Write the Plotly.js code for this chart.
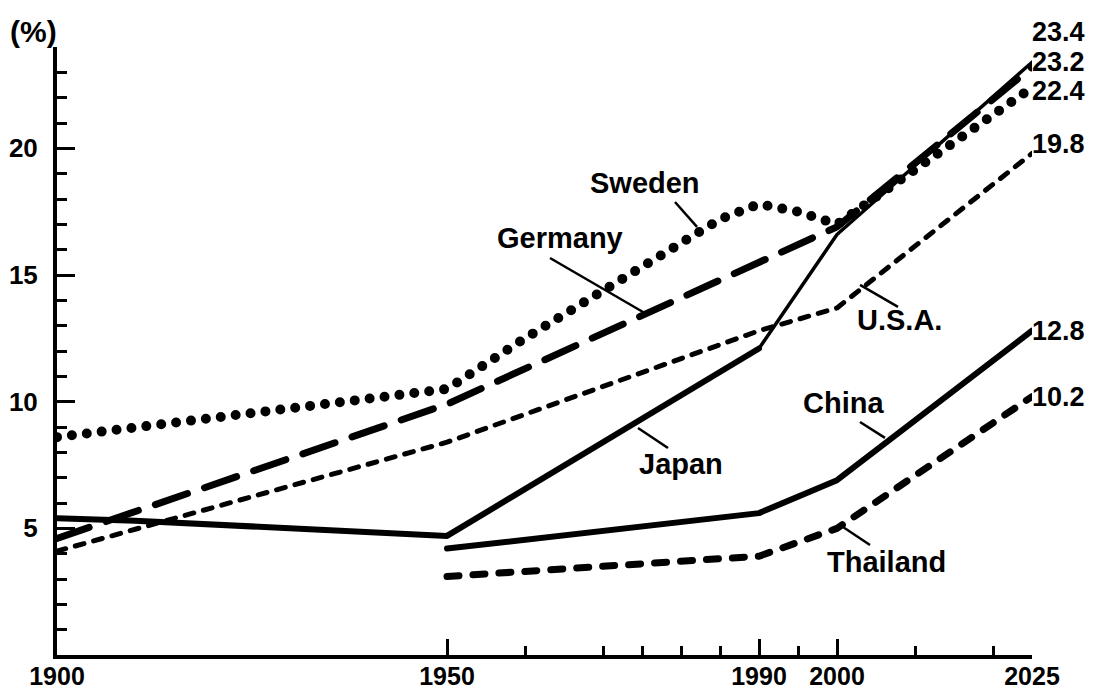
<!DOCTYPE html>
<html><head><meta charset="utf-8">
<script src="https://cdn.plot.ly/plotly-3.0.1.min.js"></script>
<style>html,body{margin:0;padding:0;background:#fff;} #chart{width:1095px;height:698px;}</style>
</head><body><div id="chart"></div>
<script>
// ---- data ----
const swedenYears = [1900, 1950, 1960, 1970, 1980, 1985, 1990, 1995, 2000, 2025];
const swedenValues = [8.6, 10.5, 12.5, 14.4, 16.2, 17.2, 17.8, 17.5, 17.0, 22.4];
const germanyYears = [1900, 1950, 2000, 2025];
const germanyValues = [4.6, 9.9, 16.9, 23.2];
const usaYears = [1900, 1950, 1990, 2000, 2025];
const usaValues = [4.1, 8.4, 12.8, 13.7, 19.8];
const japanYears = [1900, 1910, 1950, 1990, 2000, 2025];
const japanValues = [5.4, 5.3, 4.7, 12.1, 16.6, 23.4];
const chinaYears = [1950, 1990, 2000, 2025];
const chinaValues = [4.2, 5.6, 6.9, 12.8];
const thailandYears = [1950, 1990, 2000, 2025];
const thailandValues = [3.1, 3.9, 5.0, 10.2];

const xTickVals = [1900, 1950, 1990, 2000, 2025];
const xTickText = ['1900', '1950', '1990', '2000', '2025'];
const xMinorTicks = [1960, 1970, 1975, 1980, 1985, 1995, 2010, 2020];
const yTickVals = [5, 10, 15, 20];
const yTickText = ['5', '10', '15', '20'];
const yMinorTicks = [1, 2, 3, 4, 6, 7, 8, 9, 11, 12, 13, 14, 16, 17, 18, 19, 21, 22, 23, 24];

const FONT = 'Liberation Sans, Arial, Helvetica, sans-serif';
const black = '#000';

function line(x, y, width, dash, name) {
  return {x: x, y: y, type: 'scatter', mode: 'lines', name: name, showlegend: false,
          hoverinfo: 'skip', cliponaxis: false,
          line: {color: black, width: width, dash: dash, shape: 'linear'}};
}

const traces = [
  line(swedenYears, swedenValues, 10, '0px,15px', 'Sweden'),
  line(germanyYears, germanyValues, 7, '34px,18px', 'Germany'),
  line(usaYears, usaValues, 5, '9px,10px', 'U.S.A.'),
  line(japanYears.slice(0, 4), japanValues.slice(0, 4), 6, 'solid', 'Japan'),
  line(japanYears.slice(3), japanValues.slice(3), 3.5, 'solid', 'Japan'),
  line(chinaYears, chinaValues, 6, 'solid', 'China'),
  line(thailandYears, thailandValues, 7, '12px,14px', 'Thailand')
];

// series name labels (positions in data units) and leader lines
const labelFont = {family: FONT, size: 29, color: black, weight: 'bold'};
function label(text, x, y) {
  return {text: text, x: x, y: y, xref: 'x', yref: 'y', showarrow: false,
          xanchor: 'center', yanchor: 'middle', font: labelFont};
}
function leader(x0, y0, x1, y1) {
  return {type: 'line', xref: 'x', yref: 'y', x0: x0, y0: y0, x1: x1, y1: y1,
          line: {color: black, width: 2.5}};
}

const annotations = [
  {text: '(%)', x: -0.024, y: 1.026, xref: 'paper', yref: 'paper', showarrow: false,
   xanchor: 'center', yanchor: 'middle', font: {family: FONT, size: 30, color: black, weight: 'bold'}},
  label('Sweden', 1975.4, 18.63),
  label('Germany', 1964.5, 16.48),
  label('U.S.A.', 2007.95, 13.23),
  label('Japan', 1980.0, 7.54),
  label('China', 2000.8, 9.95),
  label('Thailand', 2006.4, 3.67)
];

// end-value labels at 2025
const endSeries = [
  [japanYears, japanValues, 30],
  [germanyYears, germanyValues, 5],
  [swedenYears, swedenValues, -3],
  [usaYears, usaValues, 9],
  [chinaYears, chinaValues, 0],
  [thailandYears, thailandValues, 0]
];
endSeries.forEach(function (s) {
  const xs = s[0], ys = s[1];
  annotations.push({text: ys[ys.length - 1].toFixed(1), x: xs[xs.length - 1], y: ys[ys.length - 1],
    xref: 'x', yref: 'y', showarrow: false, xanchor: 'left', yanchor: 'middle',
    xshift: -2, yshift: s[2], font: {family: FONT, size: 27, color: black, weight: 'bold'}});
});

const shapes = [
  leader(1979.23, 17.88, 1982.05, 16.9),
  leader(1963.2, 15.67, 1975.13, 13.54),
  leader(2002.95, 14.61, 2007.82, 13.74),
  leader(1974.49, 8.96, 1978.33, 8.17),
  leader(2002.95, 9.2, 2006.15, 8.57),
  leader(2000.77, 5.05, 2004.23, 4.34)
];

const tickFont = {family: FONT, size: 25, color: black, weight: 'bold'};

const layout = {
  width: 1095, height: 698,
  margin: {l: 57, r: 63, t: 47, b: 43, pad: 0},
  paper_bgcolor: '#fff', plot_bgcolor: '#fff',
  showlegend: false,
  xaxis: {
    range: [1900, 2025], showgrid: false, zeroline: false,
    showline: true, linecolor: black, linewidth: 4,
    tickmode: 'array', tickvals: xTickVals, ticktext: xTickText,
    ticks: 'inside', ticklen: 16, tickwidth: 3, tickcolor: black,
    ticklabelstandoff: -4, tickfont: tickFont,
    minor: {tickmode: 'array', tickvals: xMinorTicks, ticks: 'inside', ticklen: 9, tickwidth: 3, tickcolor: black, showgrid: false}
  },
  yaxis: {
    range: [0, 24], showgrid: false, zeroline: false,
    showline: true, linecolor: black, linewidth: 4,
    tickmode: 'array', tickvals: yTickVals, ticktext: yTickText,
    ticks: 'inside', ticklen: 18, tickwidth: 3, tickcolor: black,
    ticklabelstandoff: 10, tickfont: {family: FONT, size: 26, color: black, weight: 'bold'},
    minor: {tickmode: 'array', tickvals: yMinorTicks, ticks: 'inside', ticklen: 10, tickwidth: 3, tickcolor: black, showgrid: false}
  },
  annotations: annotations,
  shapes: shapes
};

Plotly.newPlot('chart', traces, layout, {staticPlot: true, displayModeBar: false}).then(function (gd) {
  gd.querySelectorAll('.scatterlayer .trace path.js-line').forEach(function (p) {
    p.style.strokeLinecap = 'round';
    p.style.strokeLinejoin = 'round';
  });
});
</script>
</body></html>
